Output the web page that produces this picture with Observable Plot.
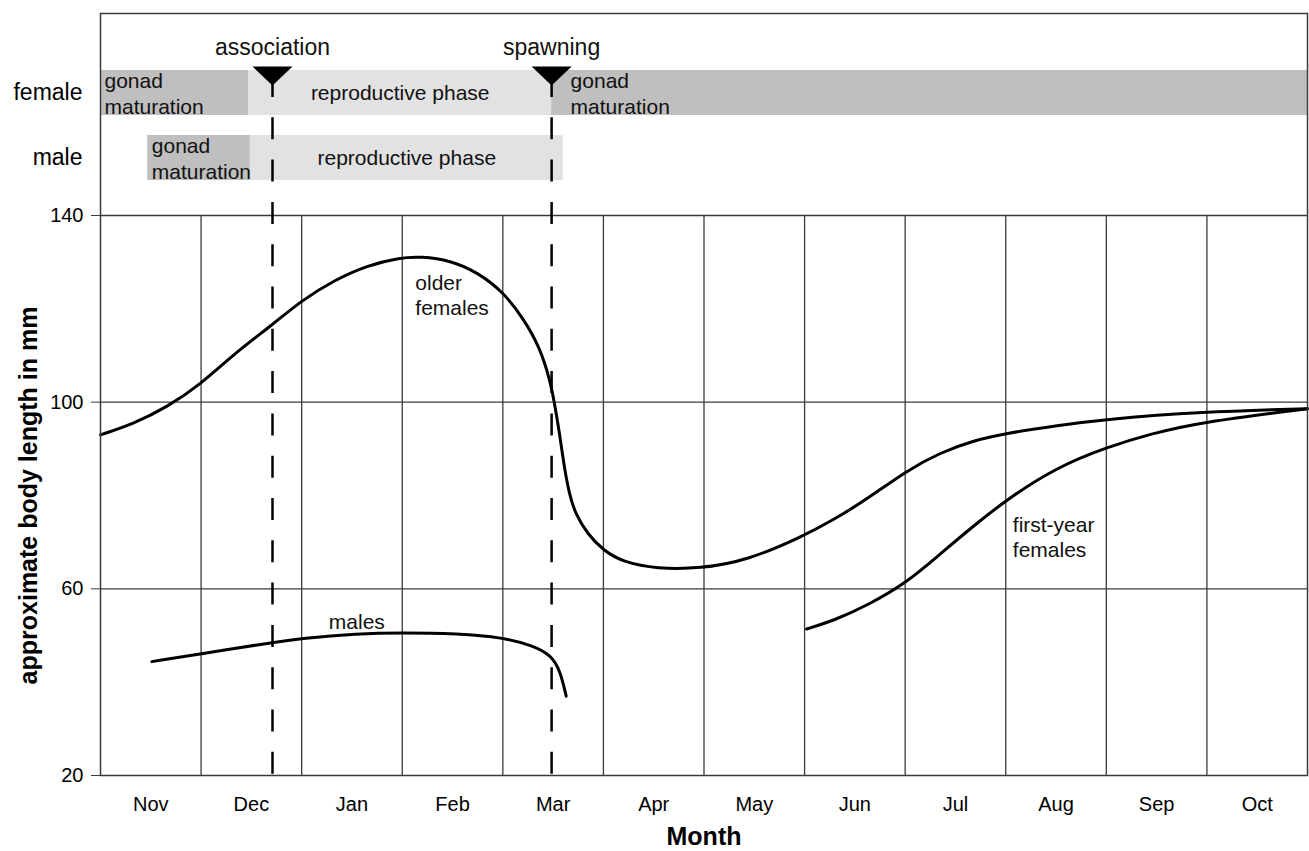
<!DOCTYPE html>
<html>
<head>
<meta charset="utf-8">
<script src="https://cdn.jsdelivr.net/npm/d3@7"></script>
<script src="https://cdn.jsdelivr.net/npm/@observablehq/plot@0.6"></script>
<style>
  body { margin: 0; background: #fff; }
  #chart { position: relative; width: 1309px; height: 851px; }
  #chart svg { position: absolute; left: 0; top: 0; }
</style>
</head>
<body>
<div id="chart"></div>
<script>
// ---------- data ----------
const months = ["Nov","Dec","Jan","Feb","Mar","Apr","May","Jun","Jul","Aug","Sep","Oct"];
const yTicks = [20, 60, 100, 140];
const xLabel = "Month";
const yLabel = "approximate body length in mm";

// x in months since start of November, y in mm
const olderX = [0, 0.33, 0.66, 1.0, 1.33, 1.71, 2.0, 2.32, 2.65, 2.98, 3.18, 3.48, 3.75, 4.0, 4.2, 4.37, 4.47, 4.51, 4.56, 4.61, 4.66, 4.72, 4.84, 5.0, 5.2, 5.53, 5.96, 6.43, 6.96, 7.29, 7.62, 8.02, 8.35, 8.68, 9.02, 9.51, 10.01, 10.93, 12.0];
const olderY = [93.0, 95.4, 98.9, 103.9, 110.4, 116.6, 121.8, 126.1, 129.3, 131.0, 131.2, 130.4, 127.8, 123.7, 118.1, 111.7, 104.6, 100.2, 93.9, 86.1, 80.4, 76.1, 71.8, 68.2, 65.7, 64.3, 64.3, 66.1, 71.0, 74.8, 79.2, 85.4, 89.2, 91.8, 93.4, 95.0, 96.4, 97.9, 98.6];

const malesX = [0.51, 1.0, 1.71, 2.0, 2.55, 3.0, 3.55, 4.0, 4.3, 4.48, 4.57, 4.63];
const malesY = [44.4, 46.1, 48.5, 49.4, 50.4, 50.6, 50.4, 49.6, 47.8, 45.8, 42.5, 37.0];

const firstX = [7.02, 7.29, 7.62, 8.02, 8.35, 8.68, 9.02, 9.51, 10.01, 10.44, 10.93, 12.0];
const firstY = [51.4, 53.2, 56.4, 61.4, 67.5, 73.5, 79.3, 86.1, 90.4, 93.2, 95.7, 98.6];

const curveLabelText = ["older\nfemales", "males", "first-year\nfemales"];
const curveLabelX = [3.13, 2.27, 9.07];
const curveLabelY = [123, 53.2, 71.3];

const phaseSex   = ["female", "female", "female", "male", "male"];
const phaseKind  = ["gonad\nmaturation", "reproductive phase", "gonad\nmaturation", "gonad\nmaturation", "reproductive phase"];
const phaseStart = [0, 1.474, 4.485, 0.47, 1.49];
const phaseEnd   = [1.474, 4.485, 12, 1.49, 4.6];

const eventName = ["association", "spawning"];
const eventX    = [1.71, 4.485];

// ---------- tables ----------
const older = olderX.map((x, i) => ({x, y: olderY[i]}));
const males = malesX.map((x, i) => ({x, y: malesY[i]}));
const first = firstX.map((x, i) => ({x, y: firstY[i]}));
const curveLabels = curveLabelText.map((t, i) => ({t, x: curveLabelX[i], y: curveLabelY[i]}));
const phases = phaseSex.map((s, i) => ({sex: s, kind: phaseKind[i], start: phaseStart[i], end: phaseEnd[i]}));
const events = eventName.map((n, i) => ({name: n, x: eventX[i]}));
const boundaries = months.slice(1).map((m, i) => i + 1);
const centers = months.map((m, i) => i + 0.5);

const FONT = "'Liberation Sans', Arial, Helvetica, sans-serif";
const DARK = "#bfbfbf", LIGHT = "#e2e2e2", GRID = "#3a3a3a";
const common = {width: 1309, height: 851, marginLeft: 100, marginRight: 2};

const isRepro = d => d.kind === "reproductive phase";
const afterSpawn = d => !isRepro(d) && d.start >= eventX[1] - 1e-9;

const downTriangle = {
  draw(ctx, size) {
    const r = Math.sqrt(size / Math.PI), h = 0.475 * r;
    ctx.moveTo(-r, -h); ctx.lineTo(r, -h); ctx.lineTo(0, h); ctx.closePath();
  }
};

// ---------- lower panel: growth curves ----------
const lower = Plot.plot({
  ...common, marginTop: 215, marginBottom: 76,
  x: {domain: [0, 12]},
  y: {domain: [20, 140]},
  style: {fontFamily: FONT, background: "white"},
  marks: [
    Plot.ruleY(yTicks.slice(1), {stroke: GRID, strokeWidth: 1.3}),
    Plot.ruleX(boundaries, {stroke: GRID, strokeWidth: 1.3}),
    Plot.axisY(yTicks, {tickSize: 9, tickPadding: 8, fontSize: 20, label: null, stroke: GRID}),
    Plot.axisX(centers, {tickSize: 0, tickPadding: 21, fontSize: 20, label: null, tickFormat: d => months[Math.floor(d)]}),
    Plot.line(older, {x: "x", y: "y", curve: "basis", stroke: "black", strokeWidth: 3}),
    Plot.line(males, {x: "x", y: "y", curve: "basis", stroke: "black", strokeWidth: 3}),
    Plot.line(first, {x: "x", y: "y", curve: "basis", stroke: "black", strokeWidth: 3}),
    Plot.text(curveLabels, {x: "x", y: "y", text: "t", textAnchor: "start", fontSize: 21, lineHeight: 1.2, fill: "#111"}),
    Plot.text([yLabel], {frameAnchor: "left", textAnchor: "middle", lineAnchor: "middle", rotate: -90, dx: -72, fontSize: 25, fontWeight: "bold"}),
    Plot.text([xLabel], {frameAnchor: "bottom", lineAnchor: "middle", dy: 61, fontSize: 25, fontWeight: "bold"})
  ]
});

// ---------- upper panel: phases, events, frame ----------
const upper = Plot.plot({
  ...common, marginTop: 13, marginBottom: 76,
  x: {domain: [0, 12], axis: null},
  y: {type: "band", domain: ["female", "male"], range: [70, 180], paddingInner: 0.3077, paddingOuter: 0},
  style: {fontFamily: FONT, background: "transparent"},
  marks: [
    Plot.barX(phases, {x1: "start", x2: "end", y: "sex", fill: d => isRepro(d) ? LIGHT : DARK}),
    Plot.text(phases.filter(d => !isRepro(d) && !afterSpawn(d)), {x: "start", y: "sex", text: "kind", textAnchor: "start", dx: 4, fontSize: 21, lineHeight: 1.2, fill: "#111"}),
    Plot.text(phases.filter(afterSpawn), {x: "start", y: "sex", text: "kind", textAnchor: "start", dx: 19, fontSize: 21, lineHeight: 1.2, fill: "#111"}),
    Plot.text(phases.filter(isRepro), {x: d => (d.start + d.end) / 2, y: "sex", text: "kind", fontSize: 21, fill: "#111"}),
    Plot.ruleX(events, {x: "x", insetTop: 62, stroke: "black", strokeWidth: 2.5, strokeDasharray: "22,20.3"}),
    Plot.dot(events, {x: "x", frameAnchor: "top", dy: 62.5, r: 20, symbol: downTriangle, fill: "black", stroke: "none"}),
    Plot.text(events, {x: "x", frameAnchor: "top", lineAnchor: "middle", dy: 34, text: "name", fontSize: 23, fill: "#111"}),
    Plot.axisY({tickSize: 0, tickPadding: 18, fontSize: 23, label: null}),
    Plot.frame({stroke: GRID, strokeWidth: 1.5})
  ]
});

const chart = document.getElementById("chart");
chart.appendChild(lower);
chart.appendChild(upper);
</script>
</body>
</html>
